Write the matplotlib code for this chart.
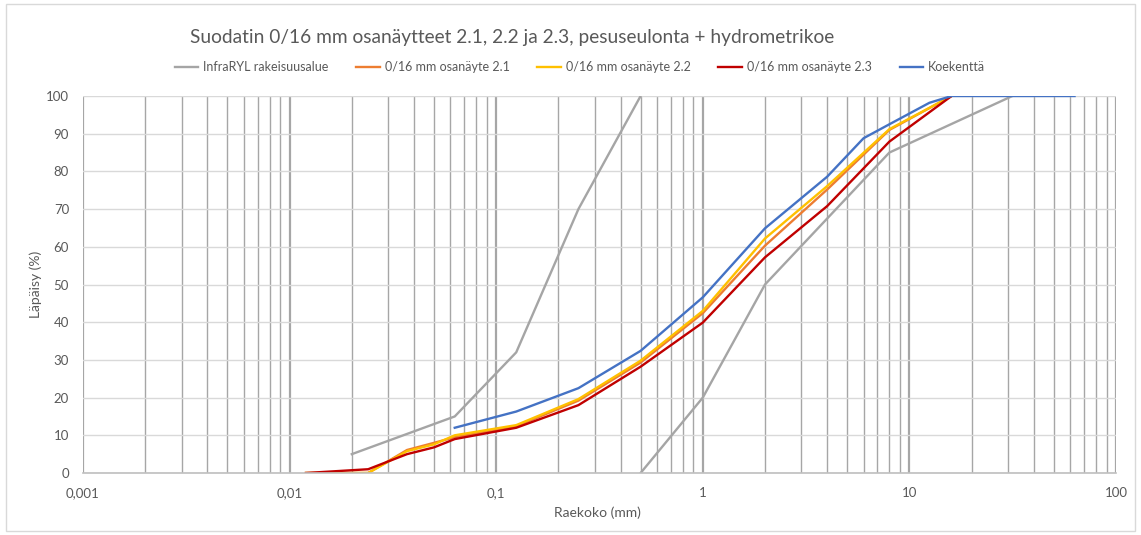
import matplotlib.pyplot as plt
from matplotlib.patches import Rectangle
from matplotlib.ticker import FixedLocator, NullFormatter

plt.rcParams['font.family'] = ['Lato', 'DejaVu Sans']

# InfraRYL grading envelope (two boundary curves)
ryl_upper_x = [0.02, 0.063, 0.125, 0.25, 0.5]
ryl_upper_y = [5, 15, 32, 70, 100]
ryl_lower_x = [0.5, 1, 2, 8, 31.5]
ryl_lower_y = [0, 20, 50, 85, 100]

# sub-samples (hydrometer + wash sieving)
s21_x = [0.012, 0.024, 0.037, 0.05, 0.063, 0.125, 0.25, 0.5, 1, 2, 4, 8, 16]
s21_y = [0, 0, 6.1, 8.0, 9.5, 12.4, 19.2, 29.3, 42.4, 60.3, 75.2, 91.0, 100]
s22_x = [0.012, 0.024, 0.037, 0.05, 0.063, 0.125, 0.25, 0.5, 1, 2, 4, 8, 16]
s22_y = [0, 0, 5.8, 7.6, 10.0, 12.7, 19.6, 29.8, 43.0, 62.2, 76.1, 91.2, 100]
s23_x = [0.012, 0.024, 0.037, 0.05, 0.063, 0.125, 0.25, 0.5, 1, 2, 4, 8, 16]
s23_y = [0, 1.0, 5.0, 6.8, 9.0, 12.0, 18.0, 28.2, 39.9, 57.2, 70.8, 87.9, 100]

# test field
koe_x = [0.063, 0.125, 0.25, 0.5, 1, 2, 4, 6, 8, 12.5, 16, 31.5, 63]
koe_y = [12, 16.3, 22.5, 32.4, 46.6, 64.9, 78.6, 88.8, 92.5, 98.2, 100, 100, 100]

x_ticks = [0.001, 0.01, 0.1, 1, 10, 100]
x_tick_labels = ['0,001', '0,01', '0,1', '1', '10', '100']
y_ticks = list(range(0, 101, 10))

fig = plt.figure(figsize=(11.41, 5.35), dpi=100)
ax = fig.add_axes([83/1141, 1 - 473/535, (1116 - 83)/1141, (473 - 96)/535])

gray = '#A5A5A5'
ax.plot(ryl_upper_x, ryl_upper_y, color=gray, lw=1.7, label='InfraRYL rakeisuusalue')
ax.plot(ryl_lower_x, ryl_lower_y, color=gray, lw=1.7)
ax.plot(s21_x, s21_y, color='#ED7D31', lw=1.7, label='0/16 mm osanäyte 2.1')
ax.plot(s22_x, s22_y, color='#FFC000', lw=1.7, label='0/16 mm osanäyte 2.2')
ax.plot(s23_x, s23_y, color='#C00000', lw=1.7, label='0/16 mm osanäyte 2.3')
ax.plot(koe_x, koe_y, color='#4472C4', lw=1.7, label='Koekenttä')

ax.set_xscale('log')
ax.set_xlim(0.001, 100)
ax.set_ylim(0, 100)
ax.xaxis.set_major_locator(FixedLocator(x_ticks))
ax.set_xticklabels(x_tick_labels)
minor = [m * 10.0**e for e in range(-3, 2) for m in range(2, 10)]
ax.xaxis.set_minor_locator(FixedLocator(minor))
ax.xaxis.set_minor_formatter(NullFormatter())
ax.set_yticks(y_ticks)

ax.grid(True, axis='x', which='major', color='#A6A6A6', lw=1.6, zorder=0)
ax.grid(True, axis='x', which='minor', color='#A6A6A6', lw=1.0, zorder=0)
ax.grid(True, axis='y', which='major', color='#D9D9D9', lw=1.0, zorder=0)
ax.set_axisbelow(True)

for s in ['top', 'left', 'right']:
    ax.spines[s].set_visible(False)
ax.spines['bottom'].set_color('#BFBFBF')
ax.spines['bottom'].set_linewidth(1.2)
ax.tick_params(which='both', length=0, labelsize=9.5, labelcolor='#595959')
ax.tick_params(axis='x', pad=10)
ax.tick_params(axis='y', pad=10)

ax.set_xlabel('Raekoko (mm)', fontsize=10, color='#595959')
ax.set_ylabel('Läpäisy (%)', fontsize=10, color='#595959')
ax.xaxis.set_label_coords((597 - 83) / 1033, -(506 - 473) / 377)
ax.yaxis.set_label_coords(-(83 - 42) / 1033, 0.5)

fig.text(512/1141, 1 - 38/535, 'Suodatin 0/16 mm osanäytteet 2.1, 2.2 ja 2.3, pesuseulonta + hydrometrikoe',
         fontsize=13.8, color='#595959', ha='center', va='center')
fig.legend(loc='center', bbox_to_anchor=(580/1141, 1 - 67/535), ncol=5, frameon=False,
           fontsize=9, labelcolor='#595959', handlelength=1.9, columnspacing=2.2, handletextpad=0.4)

fig.patches.append(Rectangle((6/1141, 4/535), 1129/1141, 527/535, transform=fig.transFigure,
                             fill=False, edgecolor='#D9D9D9', lw=1))

fig.savefig('out.png', dpi=100)
